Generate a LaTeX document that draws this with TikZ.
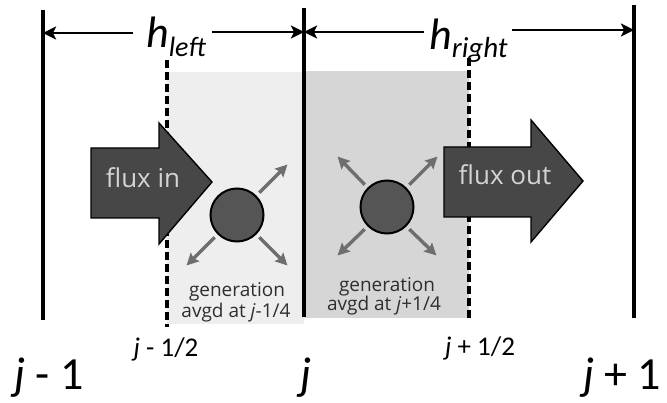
\documentclass[tikz,border=0pt]{standalone}
\usepackage{fontspec}
\setmainfont{Carlito}
\newfontfamily\notefont{Open Sans}
\usetikzlibrary{arrows.meta}

\definecolor{cellleft}{HTML}{EEEEEE}
\definecolor{cellright}{HTML}{D6D6D6}
\definecolor{fluxfill}{HTML}{474747}
\definecolor{fluxtext}{HTML}{D4D4D4}
\definecolor{dotfill}{HTML}{555555}
\definecolor{spread}{HTML}{6E6E6E}
\definecolor{notetext}{HTML}{2E2E2E}

\begin{document}
\begin{tikzpicture}[x=1pt,y=-1pt,
  gridline/.style={line width=3.4pt,black},
  halfline/.style={line width=3.2pt,black,dash pattern=on 8pt off 4pt},
  dimline/.style={line width=2.6pt,-{Stealth[length=13pt,width=13pt,inset=3pt]}},
  fluxarrow/.style={fill=fluxfill,draw=black,line width=1.4pt,line join=miter},
  fluxlabel/.style={anchor=base,inner sep=0,text=fluxtext,font=\notefont\fontsize{26}{26}\selectfont},
  source/.style={circle,fill=dotfill,draw=black,line width=2pt,minimum size=53pt,inner sep=0},
  spreadarrow/.style={spread,line width=3.4pt,shorten <=4pt,-{Stealth[length=12pt,width=12pt,inset=2pt]}},
  note/.style={anchor=base,inner sep=0,text=notetext,font=\notefont\fontsize{19}{19}\selectfont},
  biglabel/.style={anchor=base,inner sep=0,font=\fontsize{46}{46}\selectfont},
  halflabel/.style={anchor=base,inner sep=0,font=\fontsize{27}{27}\selectfont},
  spacing/.style={anchor=base west,inner sep=0}
]
\useasboundingbox (0,0) rectangle (667,403);

% cell halves around node j
\fill[cellleft] (167,72) rectangle (304,324);
\fill[cellright] (304,71) rectangle (469,318);

% grid points j-1, j, j+1
\coordinate (gl top) at (43,10);  \coordinate (gl bot) at (43,320);
\coordinate (gm top) at (304,8);  \coordinate (gm bot) at (304,317);
\coordinate (gr top) at (634,5);  \coordinate (gr bot) at (634,318);
\draw[gridline] (gl top) -- (gl bot);
\draw[gridline] (gm top) -- (gm bot);
\draw[gridline] (gr top) -- (gr bot);

% cell faces j-1/2 and j+1/2
\coordinate (fl top) at (167,60); \coordinate (fl bot) at (167,327);
\coordinate (fr top) at (469,58); \coordinate (fr bot) at (469,318);
\draw[halfline] (fl top) -- (fl bot);
\draw[halfline] (fr top) -- (fr bot);

% spacing labels and dimension arrows
\node[spacing] (hl) at (146,48) {\itshape\fontsize{44}{44}\selectfont h\raisebox{-9pt}{\fontsize{28}{28}\selectfont left}};
\node[spacing] (hr) at (429,50) {\itshape\fontsize{44}{44}\selectfont h\raisebox{-8pt}{\fontsize{29}{29}\selectfont right}};
\coordinate (dl) at (43,33);
\coordinate (dm) at (304,32);
\coordinate (dr) at (634,30);
\draw[dimline,shorten <=13pt] (hl.west |- dl) -- (dl);
\draw[dimline,shorten <=6pt] (hl.east |- dm) -- (dm);
\draw[dimline,shorten <=5pt] (hr.west |- dm) -- (dm);
\draw[dimline,shorten <=4pt] (hr.east |- dr) -- (dr);

% generation sources and their spreading arrows
\node[source] (sl) at (237,215) {};
\node[source] (sr) at (387,207) {};
\draw[spreadarrow] (sl.45) -- ++(31,-31);
\draw[spreadarrow] (sl.-45) -- ++(31,31);
\draw[spreadarrow] (sl.-135) -- ++(-31,31);
\draw[spreadarrow] (sr.135) -- ++(-30,-31);
\draw[spreadarrow] (sr.45) -- ++(31,-31);
\draw[spreadarrow] (sr.-135) -- ++(-30,29);
\draw[spreadarrow] (sr.-45) -- ++(30,29);

% flux arrows
\draw[fluxarrow] (91,148) -- (159,148) -- (159,123) -- (212,182) -- (159,244) -- (159,218) -- (91,218) -- cycle;
\draw[fluxarrow] (444,147) -- (531,147) -- (531,120) -- (583,181) -- (531,242) -- (531,217) -- (444,217) -- cycle;
\node[fluxlabel] (fin) at (143,188) {flux in};
\node[fluxlabel] (fout) at (505,185) {flux out};

% generation notes
\node[note] (gen l) at (237,297) {generation};
\node[note] (avg l) at (236,318) {avgd at \textit{j}-1/4};
\node[note] (gen r) at (387,292) {generation};
\node[note] (avg r) at (384,311) {avgd at \textit{j}+1/4};

% position labels
\node[halflabel] (jmh) at (166,357) {\textit{j} - 1/2};
\node[halflabel] (jph) at (480,356) {\textit{j} + 1/2};
\node[biglabel] (jm) at (49,390) {\textit{j} - 1};
\node[biglabel] (j0) at (306,390) {\textit{j}};
\node[biglabel,anchor=base west] (jp) at (583,390) {\textit{j} + 1};
\end{tikzpicture}
\end{document}
